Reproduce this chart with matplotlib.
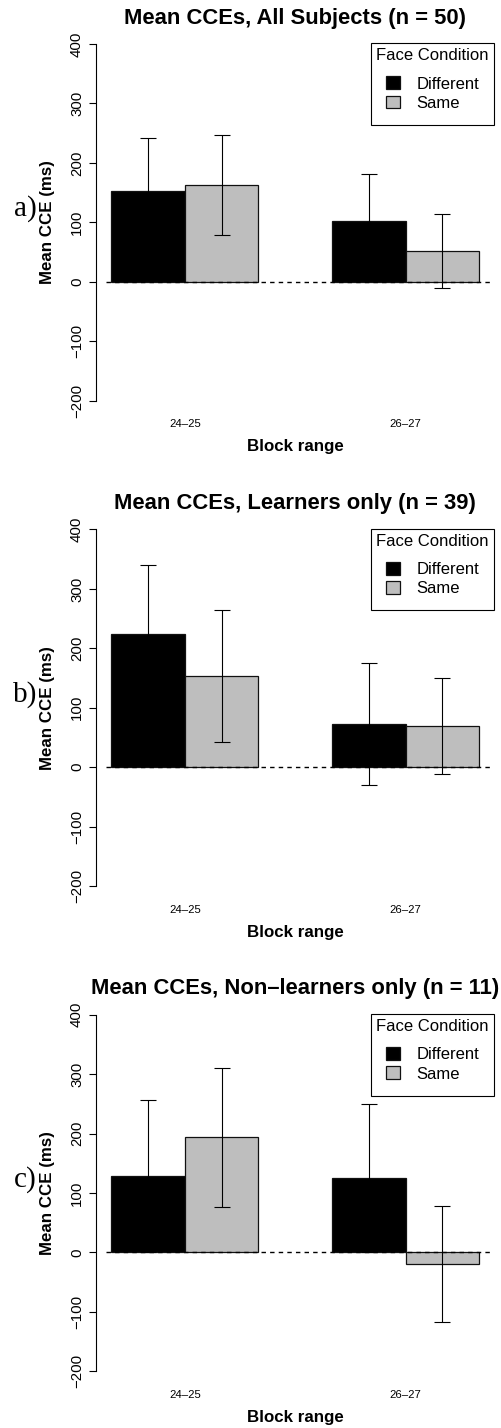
import matplotlib
matplotlib.use('Agg')
import matplotlib.pyplot as plt

plt.rcParams['font.family'] = ['Liberation Sans', 'DejaVu Sans']

# data (ms)
groups = ['24–25', '26–27']
conditions = ['Different', 'Same']
titles = ['Mean CCEs, All Subjects (n = 50)',
          'Mean CCEs, Learners only (n = 39)',
          'Mean CCEs, Non–learners only (n = 11)']
panel_tags = ['a)', 'b)', 'c)']

diff_mean_all = [152.6, 102.0]
diff_err_all = [88.6, 79.8]
same_mean_all = [162.4, 51.6]
same_err_all = [84.4, 62.8]

diff_mean_learn = [224.2, 73.0]
diff_err_learn = [115.7, 102.8]
same_mean_learn = [153.4, 69.4]
same_err_learn = [110.7, 80.6]

diff_mean_non = [129.0, 125.1]
diff_err_non = [128.0, 124.5]
same_mean_non = [193.9, -20.2]
same_err_non = [117.0, 97.6]

yticks = [-200, -100, 0, 100, 200, 300, 400]

panels = [
    (diff_mean_all, diff_err_all, same_mean_all, same_err_all),
    (diff_mean_learn, diff_err_learn, same_mean_learn, same_err_learn),
    (diff_mean_non, diff_err_non, same_mean_non, same_err_non),
]

fig = plt.figure(figsize=(5.02, 14.28), dpi=100)
bottoms = [0.7095, 0.3695, 0.0297]

for i, (dm, de, sm, se) in enumerate(panels):
    ax = fig.add_axes([0.1922, bottoms[i], 0.7918, 0.2697])

    # R barplot(beside=TRUE) layout: groups of two unit-width bars, one gap
    centers = [2 + 3 * k for k in range(len(groups))]
    x_diff = [c - 0.5 for c in centers]
    x_same = [c + 0.5 for c in centers]

    ax.bar(x_diff, dm, width=1.0, color='black', edgecolor='#111111',
           linewidth=0.9, label=conditions[0], zorder=2)
    ax.bar(x_same, sm, width=1.0, color='#BEBEBE', edgecolor='#111111',
           linewidth=0.9, label=conditions[1], zorder=2)
    ax.axhline(0, xmin=0.025, color='black', linewidth=1.0,
               dashes=(3.2, 3.0), zorder=3)
    ax.errorbar(x_diff, dm, yerr=de, fmt='none', ecolor='black',
                elinewidth=0.8, capsize=6, capthick=0.8, zorder=4)
    ax.errorbar(x_same, sm, yerr=se, fmt='none', ecolor='black',
                elinewidth=0.8, capsize=6, capthick=0.8, zorder=4)

    ax.set_xlim(0.8, 6.2)
    ax.set_ylim(-224, 424)

    for s in ['top', 'right', 'bottom']:
        ax.spines[s].set_visible(False)
    ax.spines['left'].set_bounds(-200, 400)
    ax.spines['left'].set_linewidth(0.8)

    ax.set_yticks(yticks)
    ax.tick_params(axis='y', length=5, width=0.8, pad=4, labelsize=10.8,
                   labelrotation=90)
    for lab in ax.get_yticklabels():
        lab.set_verticalalignment('center')

    ax.set_xticks(centers)
    ax.set_xticklabels(groups)
    ax.tick_params(axis='x', length=0, pad=3, labelsize=8.2)

    ax.set_title(titles[i], fontsize=15.8, fontweight='bold', pad=4.3)
    ax.set_xlabel('Block range', fontsize=12.2, fontweight='bold')
    ax.xaxis.set_label_coords(0.5, -0.063)
    ax.set_ylabel('Mean CCE (ms)', fontsize=12.2, fontweight='bold')
    ax.yaxis.set_label_coords(-0.105, 0.5)

    ax.text(-0.18, 0.535, panel_tags[i], transform=ax.transAxes,
            fontsize=21, family='Liberation Serif', ha='center', va='center')

    leg = ax.legend(title='Face Condition', loc='upper right',
                    bbox_to_anchor=(1.0, 0.965), borderaxespad=0,
                    fontsize=12, title_fontsize=12, fancybox=False,
                    framealpha=1, edgecolor='black', handlelength=0.8,
                    handleheight=0.8, handletextpad=1.0, labelspacing=0.25,
                    borderpad=0.3)
    leg.get_frame().set_linewidth(0.8)
    # extra room above and below the entries, like the R legend
    leg._legend_handle_box.pad = 6.5

fig.savefig('out.png', dpi=100)
